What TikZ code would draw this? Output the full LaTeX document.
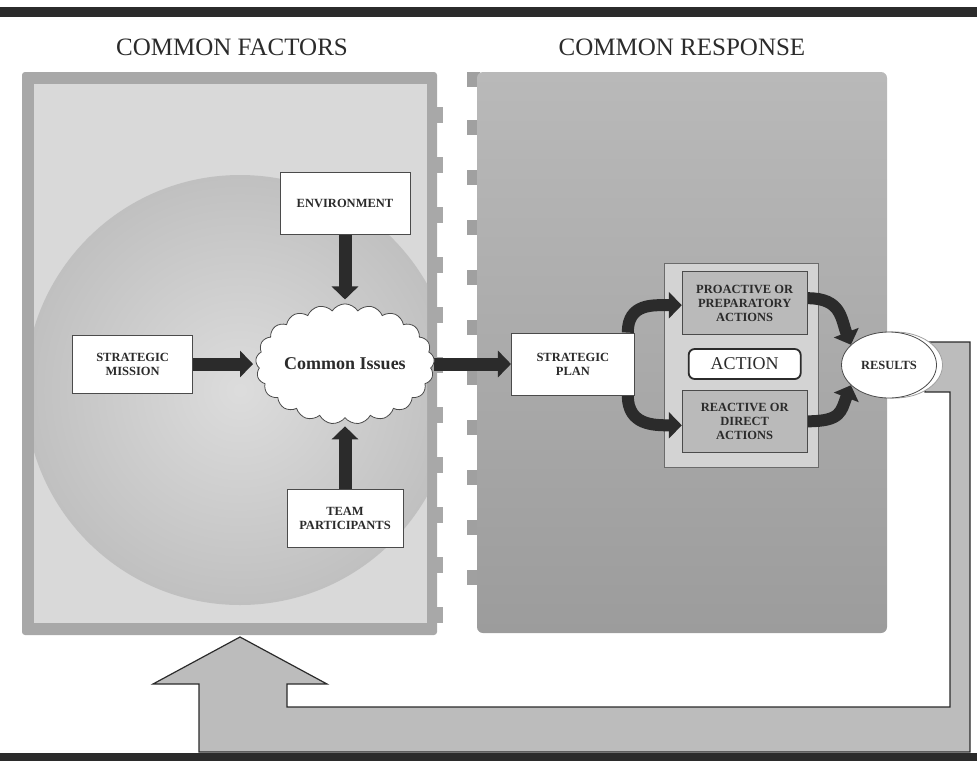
\documentclass[tikz,border=0pt]{standalone}
\usepackage{fontspec}
\setmainfont{Liberation Serif}
\usetikzlibrary{shapes.geometric, shapes.symbols, arrows.meta, positioning, calc}
\definecolor{inkDark}{HTML}{2B2B2B}
\definecolor{frameGray}{HTML}{A8A8A8}
\definecolor{paleGray}{HTML}{D9D9D9}
\definecolor{globeGray}{HTML}{C0C0C0}
\definecolor{respGray}{HTML}{9C9C9C}
\definecolor{respLight}{HTML}{B9B9B9}
\definecolor{actionGray}{HTML}{D3D3D3}
\definecolor{boxGray}{HTML}{BABABA}
\definecolor{loopGray}{HTML}{BCBCBC}
\pgfdeclarelayer{backdrop}
\pgfdeclarelayer{links}
\pgfsetlayers{backdrop,links,main}

\begin{document}
\begin{tikzpicture}[
    x=1pt, y=-1pt,
    every node/.style={font=\fontsize{12.5}{14}\selectfont\bfseries, text=inkDark, align=center},
    fbox/.style={rectangle, draw=inkDark!85, line width=0.8pt, fill=#1, minimum width=120pt, minimum height=62pt, inner sep=2pt},
    fbox/.default={white},
    bigarrow/.style={-{Triangle[length=13pt, width=26pt]}, line width=13pt, draw=inkDark},
    header/.style={font=\fontsize{25}{28}\selectfont, text=inkDark}
]
\useasboundingbox (0,0) rectangle (977,761);

\begin{pgfonlayer}{backdrop}
% Page bars
\fill[inkDark] (0,7) rectangle (977,17);
\fill[inkDark] (0,753) rectangle (977,761);

% Left panel: common factors
\fill[frameGray, rounded corners=3pt] (22,72) rectangle (437,635);
\foreach \ty in {107,157,...,607}
  \fill[frameGray] (434,\ty) rectangle (443,\ty+16);
\begin{scope}
  \clip (34,84) rectangle (427,623);
  \fill[paleGray] (34,84) rectangle (427,623);
  \shade[inner color=globeGray!55, outer color=globeGray] (240,390) circle (215);
\end{scope}

% Right panel: common response
\foreach \ty in {72,120,170,...,570}
  \fill[respGray!85!respLight] (467,\ty) rectangle (480,\ty+15);
\shade[rounded corners=6pt, top color=respLight, bottom color=respGray] (477,72) rectangle (887,633);

% Feedback loop (block arrow)
\filldraw[fill=loopGray, draw=inkDark, line width=1.2pt]
  (925,342) -- (970,342) -- (970,752) -- (199,752) -- (199,684) -- (153,684)
  -- (240,637) -- (327,684) -- (287,684) -- (287,707) -- (950,707)
  -- (950,392) -- (925,392) -- cycle;

% Action container
\filldraw[draw=inkDark!70, line width=0.6pt, fill=actionGray] (664,263) rectangle (818,467);
\end{pgfonlayer}

% Headers
\node[header] (hfactors) at (232,47) {COMMON FACTORS};
\node[header] (hresponse) at (682,47) {COMMON RESPONSE};

% Common factors
\node[cloud, cloud puffs=21, cloud puff arc=115, aspect=1.6, draw=inkDark!85, line width=0.8pt, fill=white,
      minimum width=170pt, minimum height=112pt, inner sep=0pt, font=\fontsize{18}{20}\selectfont\bfseries] (issues) at (345,364) {Common Issues};
\node[fbox, minimum width=130pt, above=69pt of issues] (env) {ENVIRONMENT};
\node[fbox, left=63pt of issues, minimum height=58pt] (mission) {STRATEGIC\\MISSION};
\node[fbox, minimum width=116pt, minimum height=58pt, below=71pt of issues] (team) {TEAM\\PARTICIPANTS};

% Common response
\node[fbox, minimum width=123pt, right=77pt of issues] (plan) {STRATEGIC\\PLAN};
\node[rectangle, draw=inkDark, line width=1.8pt, rounded corners=6pt, fill=white, minimum width=112pt, minimum height=30pt,
      font=\fontsize{18}{20}\selectfont, right=53pt of plan] (action) {ACTION};
\node[fbox=boxGray, minimum width=125pt, minimum height=63pt, above=13pt of action] (proact) {PROACTIVE OR\\PREPARATORY\\ACTIONS};
\node[fbox=boxGray, minimum width=125pt, below=10pt of action] (react) {REACTIVE OR\\DIRECT\\ACTIONS};
\node[ellipse, draw=inkDark!45, line width=0.8pt, fill=white, minimum width=95pt, minimum height=66pt] (resshadow) at (895,365) {};
\node[ellipse, draw=inkDark!85, line width=0.8pt, fill=white, minimum width=95pt, minimum height=66pt] (results) at (889,365) {RESULTS};

% Arrows
\begin{pgfonlayer}{links}
\draw[bigarrow, shorten >=4pt] (env) -- (issues);
\draw[bigarrow, shorten >=3pt] (mission) -- (issues);
\draw[bigarrow, shorten >=8pt] (team) -- (issues);
\draw[bigarrow] (issues.east) -- (plan.west);

\draw[bigarrow, line width=12pt] ([xshift=-7pt]plan.north east) .. controls +(0,-30) and +(-28,0) .. ([yshift=-2pt]proact.west);
\draw[bigarrow, line width=12pt] ([xshift=-7pt]plan.south east) .. controls +(0,30) and +(-28,0) .. ([yshift=-4pt]react.west);
\draw[bigarrow, line width=12pt] ([yshift=5pt]proact.east) .. controls +(34,0) and +(-10,-26) .. (results.152);
\draw[bigarrow, line width=12pt] (react.east) .. controls +(34,0) and +(-10,26) .. (results.208);
\end{pgfonlayer}

\end{tikzpicture}
\end{document}
